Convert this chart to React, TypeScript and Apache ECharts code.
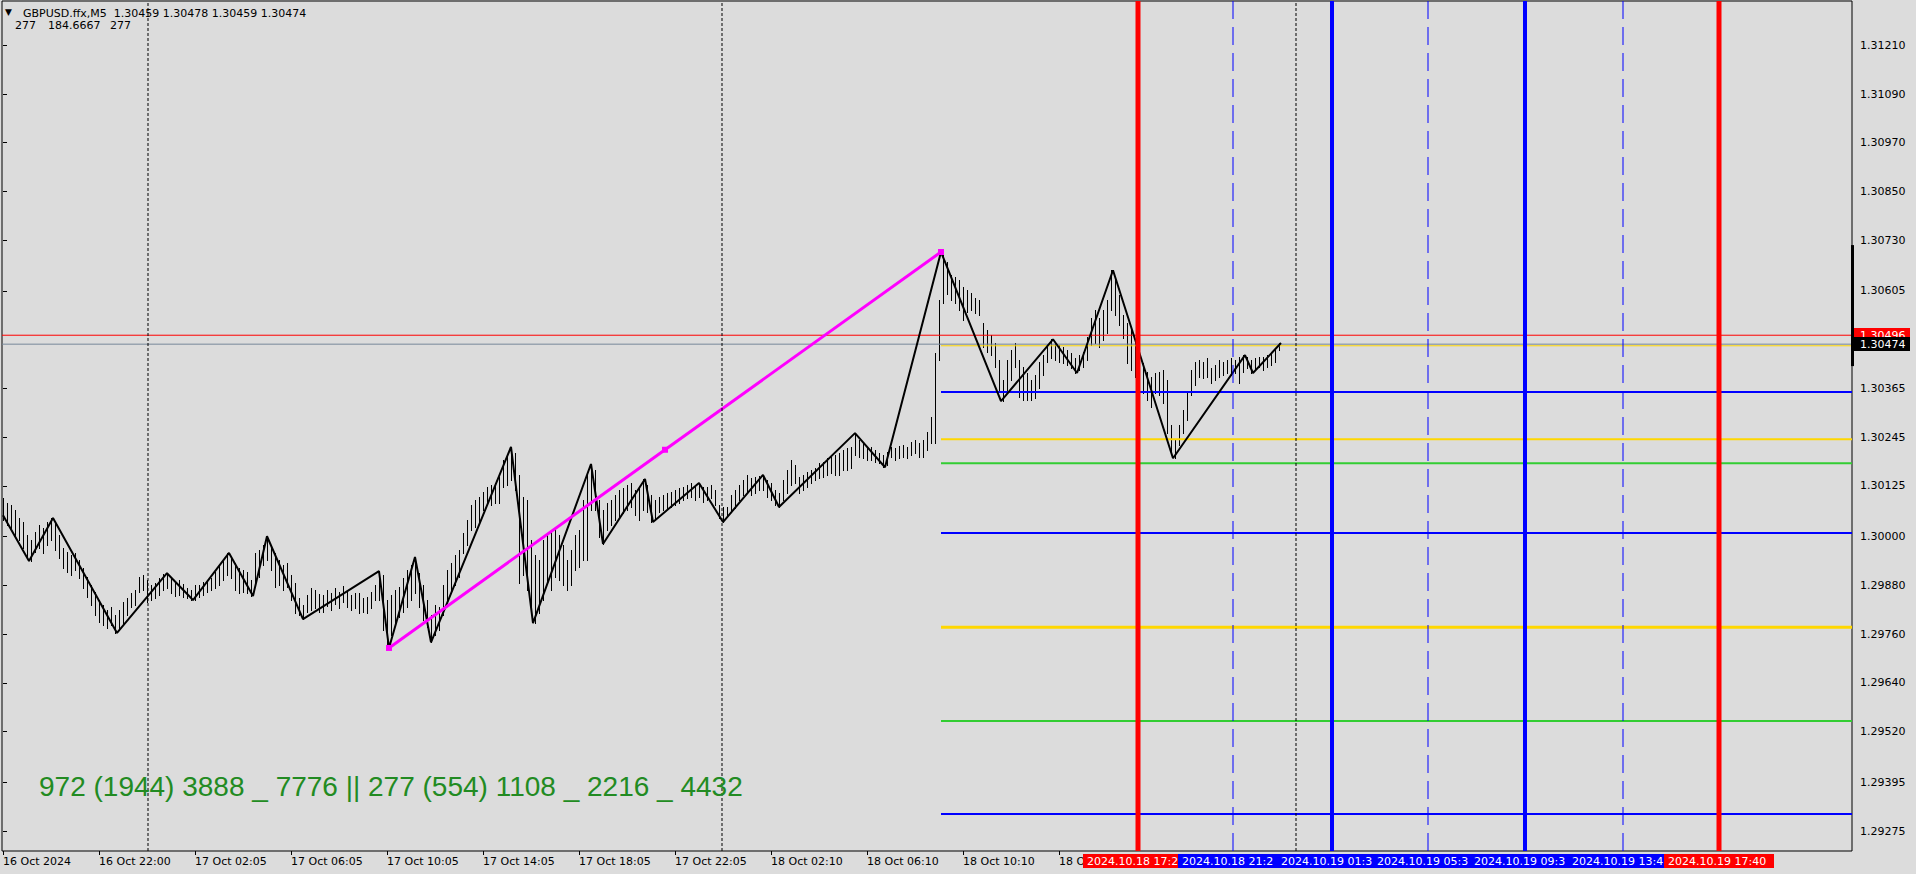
import React, { useEffect, useRef } from "react";
import * as echarts from "echarts";

// ---------- data ----------
const timeTickBars = [0, 48, 96, 144, 192, 240, 288, 336, 384, 432, 480, 528];
const timeLabels = [
  "16 Oct 2024", "16 Oct 22:00", "17 Oct 02:05", "17 Oct 06:05", "17 Oct 10:05", "17 Oct 14:05",
  "17 Oct 18:05", "17 Oct 22:05", "18 Oct 02:10", "18 Oct 06:10", "18 Oct 10:10", "18 Oct 14:10",
];
const priceTicks = [
  1.3121, 1.3109, 1.3097, 1.3085, 1.3073, 1.30605, 1.30365, 1.30245,
  1.30125, 1.3, 1.2988, 1.2976, 1.2964, 1.2952, 1.29395, 1.29275,
];

// bar highs / lows (one stored bar every two M5 bars)
const barHigh = [
  1.30095, 1.30083, 1.30078, 1.30065, 1.30046, 1.30036, 1.30004, 1.29992, 1.30011, 1.30028,
  1.30021, 1.30036, 1.30046, 1.30033, 1.30004, 1.29972, 1.29962, 1.29955, 1.2996, 1.29942,
  1.29923, 1.299, 1.29881, 1.29864, 1.29844, 1.29832, 1.29819, 1.29827, 1.29807, 1.29819,
  1.29839, 1.29849, 1.29861, 1.29869, 1.299, 1.29905, 1.29893, 1.29881, 1.29886, 1.29898,
  1.29908, 1.2991, 1.29898, 1.29888, 1.29893, 1.29883, 1.29873, 1.29869, 1.29881, 1.29881,
  1.29888, 1.29893, 1.29898, 1.29913, 1.2993, 1.29942, 1.2996, 1.29947, 1.29935, 1.29923,
  1.29918, 1.29913, 1.29893, 1.2996, 1.29967, 1.29979, 1.30001, 1.29979, 1.2996, 1.29942,
  1.2993, 1.29935, 1.29905, 1.29886, 1.29849, 1.29832, 1.29856, 1.29873, 1.29869, 1.29859,
  1.29856, 1.29869, 1.29861, 1.29873, 1.29864, 1.29878, 1.29869, 1.29856, 1.29861, 1.29861,
  1.29849, 1.29851, 1.29864, 1.29881, 1.29915, 1.29905, 1.29844, 1.29856, 1.29869, 1.29876,
  1.29898, 1.29918, 1.2993, 1.2995, 1.2991, 1.29881, 1.29844, 1.29807, 1.29832, 1.29827,
  1.29881, 1.29918, 1.29935, 1.29955, 1.29967, 1.30009, 1.30041, 1.30078, 1.3009, 1.30097,
  1.3011, 1.30122, 1.30127, 1.30132, 1.30147, 1.30189, 1.30201, 1.30221, 1.30206, 1.30152,
  1.30097, 1.3009, 1.29992, 1.29955, 1.29942, 1.29992, 1.30009, 1.30016, 1.30024, 1.30004,
  1.29979, 1.29942, 1.29967, 1.30004, 1.30016, 1.3009, 1.30157, 1.30179, 1.30164, 1.3009,
  1.30065, 1.30083, 1.3009, 1.30102, 1.30115, 1.3012, 1.30127, 1.30132, 1.30115, 1.30122,
  1.30142, 1.30127, 1.30102, 1.3009, 1.30097, 1.30102, 1.30107, 1.3011, 1.30115, 1.3012,
  1.30122, 1.30127, 1.30132, 1.30127, 1.30132, 1.30122, 1.30122, 1.30127, 1.30115, 1.30078,
  1.30073, 1.30073, 1.30102, 1.30115, 1.30127, 1.30139, 1.30152, 1.30144, 1.30147, 1.30149,
  1.30152, 1.30139, 1.30132, 1.30115, 1.30107, 1.30139, 1.30164, 1.30189, 1.30176, 1.30147,
  1.30152, 1.30159, 1.30164, 1.30169, 1.30181, 1.30184, 1.30193, 1.30196, 1.30201, 1.30206,
  1.30213, 1.30218, 1.30221, 1.30255, 1.30238, 1.30233, 1.30221, 1.30221, 1.30213, 1.30206,
  1.30201, 1.30208, 1.30221, 1.30218, 1.30223, 1.30225, 1.30221, 1.30233, 1.30238, 1.3023,
  1.30238, 1.30257, 1.30294, 1.30452, 1.30582, 1.30701, 1.30676, 1.30644, 1.30639, 1.30632,
  1.30614, 1.30607, 1.306, 1.30587, 1.30582, 1.30526, 1.30509, 1.30496, 1.30477, 1.30435,
  1.30385, 1.30435, 1.30459, 1.30477, 1.30435, 1.30418, 1.30403, 1.30385, 1.30398, 1.3043,
  1.30447, 1.30467, 1.30486, 1.30479, 1.30472, 1.30467, 1.30459, 1.30452, 1.3044, 1.30447,
  1.30454, 1.30491, 1.30538, 1.30558, 1.30538, 1.30558, 1.30582, 1.30656, 1.30637, 1.30595,
  1.30546, 1.30526, 1.30509, 1.30484, 1.30452, 1.30427, 1.30405, 1.30393, 1.30403, 1.30405,
  1.3041, 1.30385, 1.30275, 1.30238, 1.30275, 1.30312, 1.30354, 1.3041, 1.3043, 1.30435,
  1.3043, 1.3044, 1.30415, 1.30422, 1.30435, 1.3043, 1.30435, 1.3044, 1.30435, 1.30442,
  1.30447, 1.30442, 1.30435, 1.3044, 1.30442, 1.30442, 1.30447, 1.30452, 1.30464, 1.30478,
];
const barLow = [
  1.30041, 1.30028, 1.30016, 1.30004, 1.29992, 1.29972, 1.29947, 1.2994, 1.29962, 1.29972,
  1.2996, 1.29979, 1.29992, 1.29967, 1.29947, 1.29923, 1.29913, 1.29905, 1.29918, 1.29898,
  1.29873, 1.29851, 1.29832, 1.29807, 1.2979, 1.29782, 1.29775, 1.29782, 1.29763, 1.29775,
  1.29787, 1.29807, 1.29827, 1.29832, 1.29864, 1.29869, 1.29839, 1.29844, 1.29849, 1.29856,
  1.29869, 1.29873, 1.29861, 1.29854, 1.29856, 1.29851, 1.29849, 1.29844, 1.29844, 1.29851,
  1.29856, 1.29864, 1.29869, 1.29873, 1.29881, 1.29893, 1.29905, 1.29898, 1.29869, 1.29861,
  1.29864, 1.29861, 1.29854, 1.29881, 1.299, 1.2993, 1.29942, 1.29918, 1.29876, 1.29881,
  1.29869, 1.29876, 1.29844, 1.29812, 1.29807, 1.29797, 1.29814, 1.29819, 1.29824, 1.29814,
  1.29814, 1.29829, 1.29819, 1.29834, 1.29824, 1.29839, 1.29827, 1.29819, 1.29824, 1.29812,
  1.29814, 1.29812, 1.29824, 1.29844, 1.29844, 1.2977, 1.29726, 1.29758, 1.29782, 1.29802,
  1.29814, 1.29827, 1.29844, 1.29861, 1.29827, 1.29795, 1.29777, 1.2974, 1.29758, 1.2977,
  1.29807, 1.29844, 1.29861, 1.29881, 1.299, 1.2996, 1.29979, 1.30016, 1.30024, 1.30033,
  1.30065, 1.30083, 1.30078, 1.30083, 1.30083, 1.30122, 1.30127, 1.30139, 1.30115, 1.29886,
  1.29905, 1.29869, 1.29819, 1.29787, 1.29812, 1.29844, 1.29886, 1.29869, 1.299, 1.29893,
  1.29881, 1.29869, 1.29881, 1.29918, 1.29925, 1.29942, 1.29942, 1.30065, 1.30065, 1.29999,
  1.29982, 1.30016, 1.30028, 1.30041, 1.30048, 1.30058, 1.30065, 1.30073, 1.30053, 1.30041,
  1.30065, 1.3006, 1.30036, 1.30046, 1.3006, 1.30065, 1.3007, 1.30073, 1.30078, 1.30083,
  1.3009, 1.30095, 1.30097, 1.3009, 1.30097, 1.30085, 1.3009, 1.30095, 1.30078, 1.30046,
  1.30036, 1.30048, 1.3006, 1.3007, 1.3009, 1.30102, 1.30107, 1.30102, 1.30107, 1.30115,
  1.30115, 1.30097, 1.3009, 1.30078, 1.30073, 1.3009, 1.30107, 1.30127, 1.30132, 1.30107,
  1.30115, 1.30122, 1.30132, 1.30139, 1.30144, 1.30147, 1.30152, 1.30157, 1.30152, 1.30152,
  1.30164, 1.30164, 1.30169, 1.30201, 1.30196, 1.30193, 1.30189, 1.30189, 1.30184, 1.30181,
  1.30171, 1.30176, 1.30196, 1.30189, 1.30193, 1.30196, 1.30193, 1.30201, 1.30206, 1.30196,
  1.30196, 1.30213, 1.3023, 1.3023, 1.30435, 1.30575, 1.30597, 1.30582, 1.30575, 1.30558,
  1.30533, 1.30553, 1.30558, 1.3055, 1.30546, 1.30467, 1.30454, 1.30447, 1.30418, 1.30361,
  1.30334, 1.30354, 1.30385, 1.30418, 1.30344, 1.30336, 1.30336, 1.30336, 1.30341, 1.30366,
  1.30398, 1.3043, 1.3044, 1.30435, 1.3043, 1.30427, 1.30422, 1.30415, 1.30403, 1.3041,
  1.30418, 1.30435, 1.30472, 1.30477, 1.30467, 1.30484, 1.30501, 1.30558, 1.30546, 1.30521,
  1.30489, 1.30427, 1.3041, 1.30393, 1.30385, 1.30354, 1.30336, 1.30319, 1.30354, 1.30349,
  1.30329, 1.30255, 1.30206, 1.30193, 1.30225, 1.30255, 1.30287, 1.30349, 1.30373, 1.30393,
  1.3039, 1.30393, 1.30378, 1.30385, 1.30393, 1.30398, 1.30403, 1.30398, 1.30403, 1.30378,
  1.30405, 1.30415, 1.30403, 1.3041, 1.30418, 1.3041, 1.30418, 1.30422, 1.3043, 1.30459,
];
const BAR_STEP = 2; // stored bars are two M5 bars apart

const zigzagBars = [
  0, 13, 25, 57, 82, 95, 113, 125, 132, 150, 188, 193, 206, 214, 254, 265, 294, 300,
  321, 325, 348, 360, 380, 388, 426, 441, 469, 499, 525, 537, 555, 585, 621, 625, 639,
];
const zigzagPrices = [
  1.30053, 1.2994, 1.30046, 1.29763, 1.2991, 1.29844, 1.2996, 1.29854, 1.30001, 1.29797,
  1.29915, 1.29726, 1.2995, 1.2974, 1.30221, 1.29787, 1.30179, 1.29982, 1.30142, 1.30036,
  1.30132, 1.30036, 1.30152, 1.30073, 1.30255, 1.30171, 1.30701, 1.30334, 1.30486, 1.30403,
  1.30656, 1.30193, 1.30447, 1.30403, 1.30477,
];

const trendBars = [193, 331, 469];
const trendPrices = [1.29726, 1.30214, 1.30701];

const levelStartBar = 469;
const levelPrices = [1.3047, 1.30356, 1.3024, 1.30181, 1.30009, 1.29777, 1.29546, 1.29317];

const askPrice = 1.30496;
const bidPrice = 1.30474;

const separatorBars = [72.5, 359.5, 646.5];
const eventBars = [567.5, 615, 664.5, 712.5, 761, 810, 858];
const eventLabels = [
  "2024.10.18 17:2", "2024.10.18 21:2", "2024.10.19 01:3", "2024.10.19 05:3",
  "2024.10.19 09:3", "2024.10.19 13:4", "2024.10.19 17:40",
];
const rangeMarker = [1.30718, 1.30420];

const symbolTitle = "GBPUSD.ffx,M5";
const ohlcValues = ["1.30459", "1.30478", "1.30459", "1.30474"];
const indicatorValues = ["277", "184.6667", "277"];
const fibText = "972 (1944) 3888 _ 7776 || 277 (554) 1108 _ 2216 _ 4432";

// ---------- styles ----------
const X_MIN = -0.5;
const X_MAX = 924.5;
const Y_MIN = 1.29226;
const Y_MAX = 1.31319;
const BG = "#dcdcdc";
const FONT = '"DejaVu Sans", Tahoma, sans-serif';
const levelStyles = [
  { color: "#ffd700", width: 1 },
  { color: "#0000ff", width: 2 },
  { color: "#ffd700", width: 2 },
  { color: "#32cd32", width: 2 },
  { color: "#0000ff", width: 2 },
  { color: "#ffd700", width: 3 },
  { color: "#32cd32", width: 2 },
  { color: "#0000ff", width: 2 },
];
const eventStyles = [
  { color: "#ff0000", width: 5, type: "solid" },
  { color: "#0000ff", width: 1, type: [18, 8] },
  { color: "#0000ff", width: 4, type: "solid" },
  { color: "#0000ff", width: 1, type: [18, 8] },
  { color: "#0000ff", width: 4, type: "solid" },
  { color: "#0000ff", width: 1, type: [18, 8] },
  { color: "#ff0000", width: 5, type: "solid" },
];

export default function App() {
  const ref = useRef<HTMLDivElement>(null);

  useEffect(() => {
    document.body.style.margin = "0";
    const el = ref.current;
    if (!el) return;
    const chart = echarts.init(el, undefined, { renderer: "svg" });

    const series: any[] = [];

    series.push({
      type: "custom",
      name: "bars",
      silent: true,
      clip: true,
      data: barHigh.map((h, i) => [i * BAR_STEP, h, barLow[i]]),
      encode: { x: 0, y: [1, 2] },
      renderItem: (_p: any, api: any) => {
        const top = api.coord([api.value(0), api.value(1)]);
        const bot = api.coord([api.value(0), api.value(2)]);
        const x = Math.round(top[0]) + 0.5;
        return {
          type: "line",
          shape: { x1: x, y1: Math.round(top[1]), x2: x, y2: Math.round(bot[1]) + 1 },
          style: { stroke: "#000", lineWidth: 1 },
        };
      },
    });

    const hLine = (price: number, from: number, color: string, width: number) => ({
      type: "line",
      silent: true,
      symbol: "none",
      data: [[from, price], [X_MAX, price]],
      lineStyle: { color, width },
    });

    series.push(hLine(askPrice, X_MIN, "#ff0000", 1));
    series.push(hLine(bidPrice, X_MIN, "#778899", 1));
    levelPrices.forEach((p, i) =>
      series.push(hLine(p, levelStartBar, levelStyles[i].color, levelStyles[i].width))
    );

    series.push({
      type: "line",
      name: "zigzag",
      silent: true,
      symbol: "none",
      data: zigzagBars.map((b, i) => [b, zigzagPrices[i]]),
      lineStyle: { color: "#000", width: 2 },
    });

    series.push({
      type: "line",
      name: "trend",
      silent: true,
      symbol: "rect",
      symbolSize: 6,
      showAllSymbol: true,
      data: trendBars.map((b, i) => [b, trendPrices[i]]),
      lineStyle: { color: "#ff00ff", width: 3 },
      itemStyle: { color: "#ff00ff" },
    });

    separatorBars.forEach((b) =>
      series.push({
        type: "line",
        silent: true,
        symbol: "none",
        data: [[b, Y_MIN], [b, Y_MAX]],
        lineStyle: { color: "#000", width: 1, type: [3, 2] },
      })
    );

    eventBars.forEach((b, i) =>
      series.push({
        type: "line",
        silent: true,
        symbol: "none",
        data: [[b, Y_MIN], [b, Y_MAX]],
        lineStyle: { color: eventStyles[i].color, width: eventStyles[i].width, type: eventStyles[i].type },
      })
    );

    chart.setOption({
      animation: false,
      backgroundColor: BG,
      grid: {
        left: 2, right: 64, top: 1, bottom: 23,
        show: true, borderColor: "#000", borderWidth: 1, backgroundColor: BG,
      },
      xAxis: {
        type: "value",
        min: X_MIN,
        max: X_MAX,
        axisLine: { show: false },
        splitLine: { show: false },
        axisTick: { show: true, customValues: timeTickBars, length: 4, lineStyle: { color: "#000" } },
        axisLabel: {
          customValues: timeTickBars,
          formatter: (v: number) => {
            const k = timeTickBars.indexOf(v);
            return k >= 0 ? timeLabels[k] : "";
          },
          align: "left",
          margin: 5,
          color: "#000",
          fontFamily: FONT,
          fontSize: 11,
        },
      },
      yAxis: {
        type: "value",
        position: "right",
        min: Y_MIN,
        max: Y_MAX,
        axisLine: { show: false },
        splitLine: { show: false },
        axisTick: { show: true, customValues: priceTicks, length: 4, lineStyle: { color: "#000" } },
        axisLabel: {
          customValues: priceTicks,
          formatter: (v: number) => v.toFixed(5),
          margin: 8,
          color: "#000",
          fontFamily: FONT,
          fontSize: 11,
        },
      },
      series,
    });

    const xPx = (b: number) => chart.convertToPixel({ xAxisIndex: 0 }, b) as number;
    const yPx = (p: number) => chart.convertToPixel({ yAxisIndex: 0 }, p) as number;

    const txt = (text: string, x: number, y: number, fill: string, font: string, z = 50) => ({
      type: "text",
      x, y, z,
      silent: true,
      style: { text, fill, font, textAlign: "left", textVerticalAlign: "middle", align: "left", verticalAlign: "middle" },
    });

    const g: any[] = [];
    g.push(txt("▼", 5, 12, "#000", `9px ${FONT}`));
    g.push(txt(`${symbolTitle}  ${ohlcValues.join(" ")}`, 23, 13, "#000", `11px ${FONT}`));
    g.push(txt(indicatorValues[0], 15, 25, "#000", `11px ${FONT}`));
    g.push(txt(indicatorValues[1], 48, 25, "#000", `11px ${FONT}`));
    g.push(txt(indicatorValues[2], 110, 25, "#000", `11px ${FONT}`));
    g.push(txt(fibText, 39, 786, "#228b22", `28px "Liberation Sans", Arial, sans-serif`));

    // range marker on the right border
    const r0 = yPx(rangeMarker[0]);
    const r1 = yPx(rangeMarker[1]);
    g.push({ type: "rect", z: 60, silent: true, shape: { x: 1851, y: r0, width: 3, height: r1 - r0 }, style: { fill: "#000" } });

    // price labels
    const ay = Math.round(yPx(askPrice));
    const by = Math.round(yPx(bidPrice));
    g.push({ type: "rect", z: 61, silent: true, shape: { x: 1854, y: ay - 7, width: 56, height: 14 }, style: { fill: "#ff0000" } });
    g.push(txt(askPrice.toFixed(5), 1860, ay, "#fff", `11px ${FONT}`, 62));
    g.push({ type: "rect", z: 63, silent: true, shape: { x: 1854, y: by - 7, width: 56, height: 14 }, style: { fill: "#000" } });
    g.push(txt(bidPrice.toFixed(5), 1860, by, "#fff", `11px ${FONT}`, 64));

    // time labels of the vertical lines
    eventBars.forEach((b, i) => {
      const cx = Math.round(xPx(b));
      g.push({ type: "rect", z: 70 + i * 2, silent: true, shape: { x: cx - 55, y: 854, width: 110, height: 14 }, style: { fill: eventStyles[i].color } });
      g.push(txt(eventLabels[i], cx - 51, 861, "#fff", `11px ${FONT}`, 71 + i * 2));
    });

    chart.setOption({ graphic: g });

    return () => chart.dispose();
  }, []);

  return (
    <div
      ref={ref}
      style={{ position: "fixed", left: 0, top: 0, width: 1916, height: 874, background: BG }}
    />
  );
}
